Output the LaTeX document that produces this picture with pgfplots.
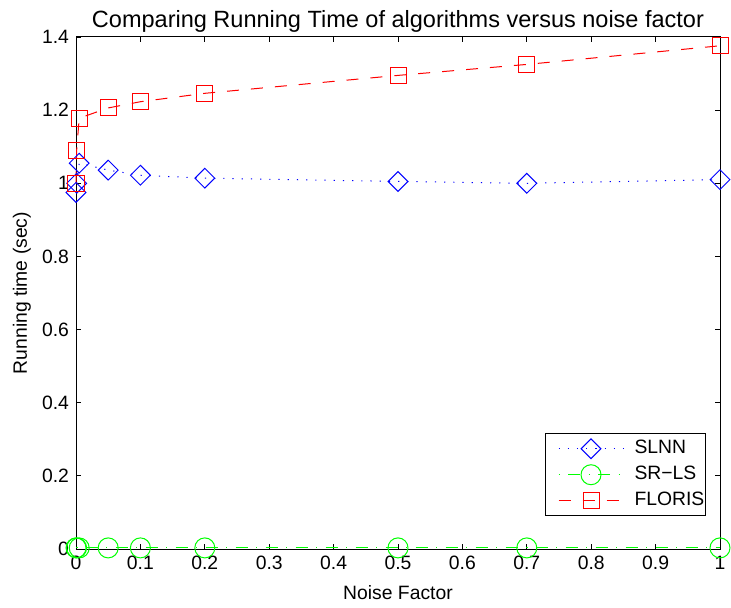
\documentclass[border=0pt]{standalone}
\usepackage{pgfplots}
\pgfplotsset{compat=1.18}
\usepackage{fontspec}
\setmainfont{Liberation Sans}
\definecolor{mblue}{rgb}{0,0,1}
\definecolor{mgreen}{rgb}{0,1,0}
\definecolor{mred}{rgb}{1,0,0}
\begin{document}
\begin{tikzpicture}
\begin{axis}[
  name=ax,
  scale only axis,
  width=322bp, height=256bp,
  xmin=0, xmax=1, ymin=0, ymax=1.4,
  xtick={0,0.1,...,1.01}, ytick={0,0.2,...,1.41},
  scaled ticks=false,
  /pgf/number format/assume math mode=true,
  tick label style={font=\fontsize{9.7}{11}\selectfont},
  label style={font=\fontsize{9.7}{11}\selectfont},
  every axis title shift=0pt,
  title style={font=\fontsize{11.8}{13}\selectfont,
    at={(axis description cs:0.5,1.0195)}, anchor=base},
  title={Comparing Running Time of algorithms versus noise factor},
  xlabel={Noise Factor}, ylabel={Running time (sec)},
  xlabel style={at={(axis description cs:0.5,-0.0977)}, anchor=base},
  ylabel style={at={(axis description cs:-0.0761,0.5)}, anchor=base, rotate=0},
  axis line style={line width=0.5bp},
  major tick length=2.5bp,
  tick style={line width=0.4bp, black},
  legend style={at={(0.978,0.064)}, anchor=south east,
    font=\fontsize{9.7}{11}\selectfont, line width=0.5bp,
    inner xsep=0.5bp, inner ysep=1bp, row sep=0pt,
    nodes={inner xsep=0pt, inner ysep=2bp, text height=7bp, text depth=2bp}},
  legend cell align=left,
  legend image code/.code={%
    \path[draw=none] (0bp,0bp) -- (44bp,0bp);
    \draw[#1, mark=none] (6bp,0bp) -- (38.5bp,0bp);
    \draw[#1] plot coordinates {(22.25bp,0bp)};},
  clip=false,
]
\addplot[color=mblue, line width=0.5bp, dash pattern=on 0.6bp off 4bp,
  mark=square, mark size=3.5bp, mark options={solid, rotate=45}]
  coordinates {(0,0.975)(0.001,1.0)(0.005,1.055)(0.05,1.036)(0.1,1.022)
               (0.2,1.014)(0.5,1.005)(0.7,1.0)(1,1.01)};
\addlegendentry{SLNN}
\addplot[color=mgreen, line width=0.5bp,
  dash pattern=on 6bp off 4.2bp on 0.6bp off 4.2bp, dash phase=10.2bp,
  mark=o, mark size=5bp, mark options={solid}]
  coordinates {(0,0.003)(0.001,0.003)(0.005,0.003)(0.05,0.003)(0.1,0.003)
               (0.2,0.003)(0.5,0.003)(0.7,0.003)(1,0.003)};
\addlegendentry{SR−LS}
\addplot[color=mred, line width=0.5bp, dash pattern=on 6bp off 6bp,
  mark=square, mark size=4bp, mark options={solid}]
  coordinates {(0,1.0)(0.001,1.09)(0.005,1.178)(0.05,1.206)(0.1,1.223)
               (0.2,1.246)(0.5,1.295)(0.7,1.325)(1,1.376)};
\addlegendentry{FLORIS}
\end{axis}
\pgfresetboundingbox
\path[use as bounding box] ([xshift=-38bp,yshift=-29.5bp]ax.south west)
  rectangle ([xshift=5.5bp,yshift=18.5bp]ax.north east);
\end{tikzpicture}
\end{document}
